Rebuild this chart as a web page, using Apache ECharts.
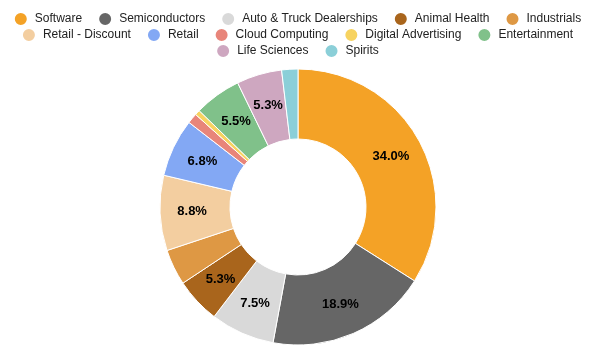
<!DOCTYPE html>
<html><head><meta charset="utf-8">
<script src="https://cdn.jsdelivr.net/npm/echarts@6/dist/echarts.min.js"></script>
<style>html,body{margin:0;padding:0;background:#fff}#c{width:594px;height:355px}</style>
</head><body><div id="c"></div>
<script>
const categories = ["Software","Semiconductors","Auto & Truck Dealerships","Animal Health","Industrials","Retail - Discount","Retail","Cloud Computing","Digital Advertising","Entertainment","Life Sciences","Spirits"];
const values = [34.0, 18.9, 7.5, 5.3, 4.2, 8.8, 6.8, 1.2, 0.6, 5.5, 5.3, 1.9];
const colors = ["#f4a226","#666666","#d9d9d9","#a9651c","#de9844","#f3cea0","#83a8f4","#e8857a","#f7d360","#80c18a","#cea7c0","#8bcfd8"];
const legendRows = [categories.slice(0,5), categories.slice(5,10), categories.slice(10)];
const legendTops = [11, 27, 43];
const chart = echarts.init(document.getElementById('c'));
chart.setOption({
  animation:false,
  color: colors,
  legend: legendRows.map((row,i)=>({
    top: legendTops[i], left: 'center', orient:'horizontal', padding:0,
    icon: 'circle', itemWidth: 14, itemHeight: 14, itemGap: 15,
    textStyle: {fontFamily:'Liberation Sans, Arial, sans-serif', fontSize: 12, color:'#222', padding:[0,0,0,2]},
    data: row
  })),
  series: [{
    type:'pie', center:[298,207], radius:[68,138], startAngle:90, clockwise:true,
    itemStyle:{borderColor:'#fff', borderWidth:1},
    label:{show:true, position:'inside', fontFamily:'Liberation Sans, Arial, sans-serif', fontSize:13, fontWeight:'bold', color:'#000',
      formatter: p => p.percent >= 5 ? p.percent.toFixed(1)+'%' : ''},
    labelLine:{show:false},
    data: categories.map((n,i)=>({name:n, value:values[i]}))
  }]
});
</script></body></html>
